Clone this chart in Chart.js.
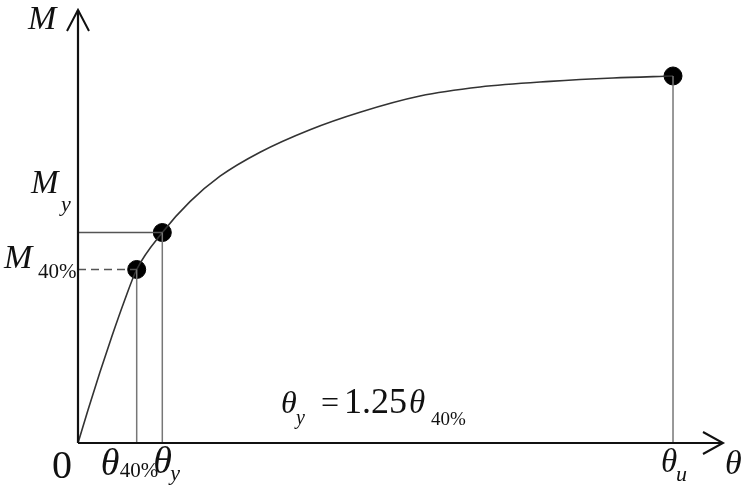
<!DOCTYPE html>
<html>
<head>
<meta charset="utf-8">
<script src="https://cdn.jsdelivr.net/npm/chart.js@4/dist/chart.umd.min.js"></script>
<style>
  html, body { margin: 0; padding: 0; background: #fff; }
  #wrap { width: 750px; height: 494px; }
</style>
</head>
<body>
<div id="wrap"><canvas id="mtChart" width="750" height="494"></canvas></div>
<script>
// moment-rotation curve (theta and M in arbitrary units 0..100)
const curveTheta = [0, 1.55, 3.41, 5.27, 7.13, 9.1, 13.07, 17.36, 22.02, 28.22, 35.97, 43.72, 53.02, 62.33, 73.18, 82.95, 92.25];
const curveMoment = [0, 7.62, 16.4, 24.7, 32.56, 40.07, 48.61, 55.73, 61.62, 67.16, 72.36, 76.4, 80.14, 82.22, 83.51, 84.3, 84.76];

// key points: theta40%, theta_y, theta_u
const keyNames = ['40%', 'y', 'u'];
const keyTheta = [9.1, 13.07, 92.25];
const keyMoment = [40.07, 48.61, 84.76];

const axisMax = 100;

const ink = '#111';
const guide = '#777';

const guideSets = [];
// vertical drops to the theta axis
keyTheta.forEach((t, i) => {
    guideSets.push({
        data: [{ x: t, y: 0 }, { x: t, y: keyMoment[i] }],
        borderColor: guide, borderWidth: 1.5, pointRadius: 0, showLine: true
    });
});
// horizontal line to M_y (solid) and M_40% (dashed)
guideSets.push({
    data: [{ x: 0, y: keyMoment[1] }, { x: keyTheta[1], y: keyMoment[1] }],
    borderColor: '#555', borderWidth: 1.5, pointRadius: 0, showLine: true
});
guideSets.push({
    data: [{ x: 0, y: keyMoment[0] }, { x: keyTheta[0], y: keyMoment[0] }],
    borderColor: '#555', borderWidth: 1.5, borderDash: [8, 5], pointRadius: 0, showLine: true
});

// arrows + axis lines + math labels
const sketchPlugin = {
    id: 'sketch',
    afterDatasetsDraw(chart) {
        const ctx = chart.ctx;
        const xs = chart.scales.x, ys = chart.scales.y;
        const x0 = xs.getPixelForValue(0), y0 = ys.getPixelForValue(0);
        const xEnd = xs.getPixelForValue(axisMax), yEnd = ys.getPixelForValue(axisMax);

        ctx.save();
        ctx.strokeStyle = ink;
        ctx.lineWidth = 2.2;
        ctx.beginPath();
        ctx.moveTo(x0, y0); ctx.lineTo(xEnd, y0);
        ctx.moveTo(x0, y0); ctx.lineTo(x0, yEnd);
        ctx.stroke();
        ctx.lineWidth = 2;
        ctx.beginPath();
        ctx.moveTo(xEnd - 20, y0 - 11); ctx.lineTo(xEnd, y0); ctx.lineTo(xEnd - 20, y0 + 11);
        ctx.moveTo(x0 - 11, yEnd + 21); ctx.lineTo(x0, yEnd); ctx.lineTo(x0 + 11, yEnd + 21);
        ctx.stroke();

        ctx.fillStyle = ink;
        ctx.textBaseline = 'alphabetic';
        const it = s => 'italic ' + s + 'px "Liberation Serif", "DejaVu Serif", serif';
        const rm = s => s + 'px "Liberation Serif", "DejaVu Serif", serif';
        const put = (txt, x, y, font) => { ctx.font = font; ctx.fillText(txt, x, y); };

        const tx = keyTheta.map(t => xs.getPixelForValue(t));
        const my = keyMoment.map(m => ys.getPixelForValue(m));

        // M axis
        put('M', 28, 29, it(34));
        // M_y
        put('M', 31, my[1] - 40, it(33));
        put(keyNames[1], 61, my[1] - 22, it(22));
        // M_40%
        put('M', 4, my[0] - 1, it(34));
        put(keyNames[0], 38, my[0] + 9, rm(21));
        // origin
        put('0', 52, y0 + 35, rm(40));
        // theta labels
        put('\u03B8', tx[0] - 36, y0 + 32, it(38));
        put(keyNames[0], tx[0] - 17, y0 + 34, rm(21));
        put('\u03B8', tx[1] - 9, y0 + 30, it(38));
        put(keyNames[1], tx[1] + 8, y0 + 37, it(22));
        put('\u03B8', tx[2] - 12, y0 + 29, it(33));
        put(keyNames[2], tx[2] + 3, y0 + 38, it(22));
        put('\u03B8', xEnd + 2, y0 + 31, it(34));
        // equation
        put('\u03B8', 281, 413, it(32));
        put('y', 296, 424, it(20));
        put('=', 321, 413, rm(32));
        put('1.25', 344, 413, rm(36));
        put('\u03B8', 409, 413, it(33));
        put('40%', 431, 425, rm(19));
        ctx.restore();
    }
};

new Chart(document.getElementById('mtChart').getContext('2d'), {
    type: 'scatter',
    data: {
        datasets: [
            ...guideSets,
            {
                data: curveTheta.map((t, i) => ({ x: t, y: curveMoment[i] })),
                borderColor: '#333', borderWidth: 1.6, pointRadius: 0,
                showLine: true, cubicInterpolationMode: 'monotone'
            },
            {
                data: keyTheta.map((t, i) => ({ x: t, y: keyMoment[i] })),
                backgroundColor: '#000', borderColor: '#000', pointRadius: 9, showLine: false
            }
        ]
    },
    options: {
        responsive: false,
        animation: false,
        layout: { padding: { left: 78, right: 27, top: 10, bottom: 51 } },
        plugins: { legend: { display: false }, tooltip: { enabled: false } },
        scales: {
            x: { type: 'linear', min: 0, max: axisMax, display: false },
            y: { type: 'linear', min: 0, max: axisMax, display: false }
        }
    },
    plugins: [sketchPlugin]
});
</script>
</body>
</html>
